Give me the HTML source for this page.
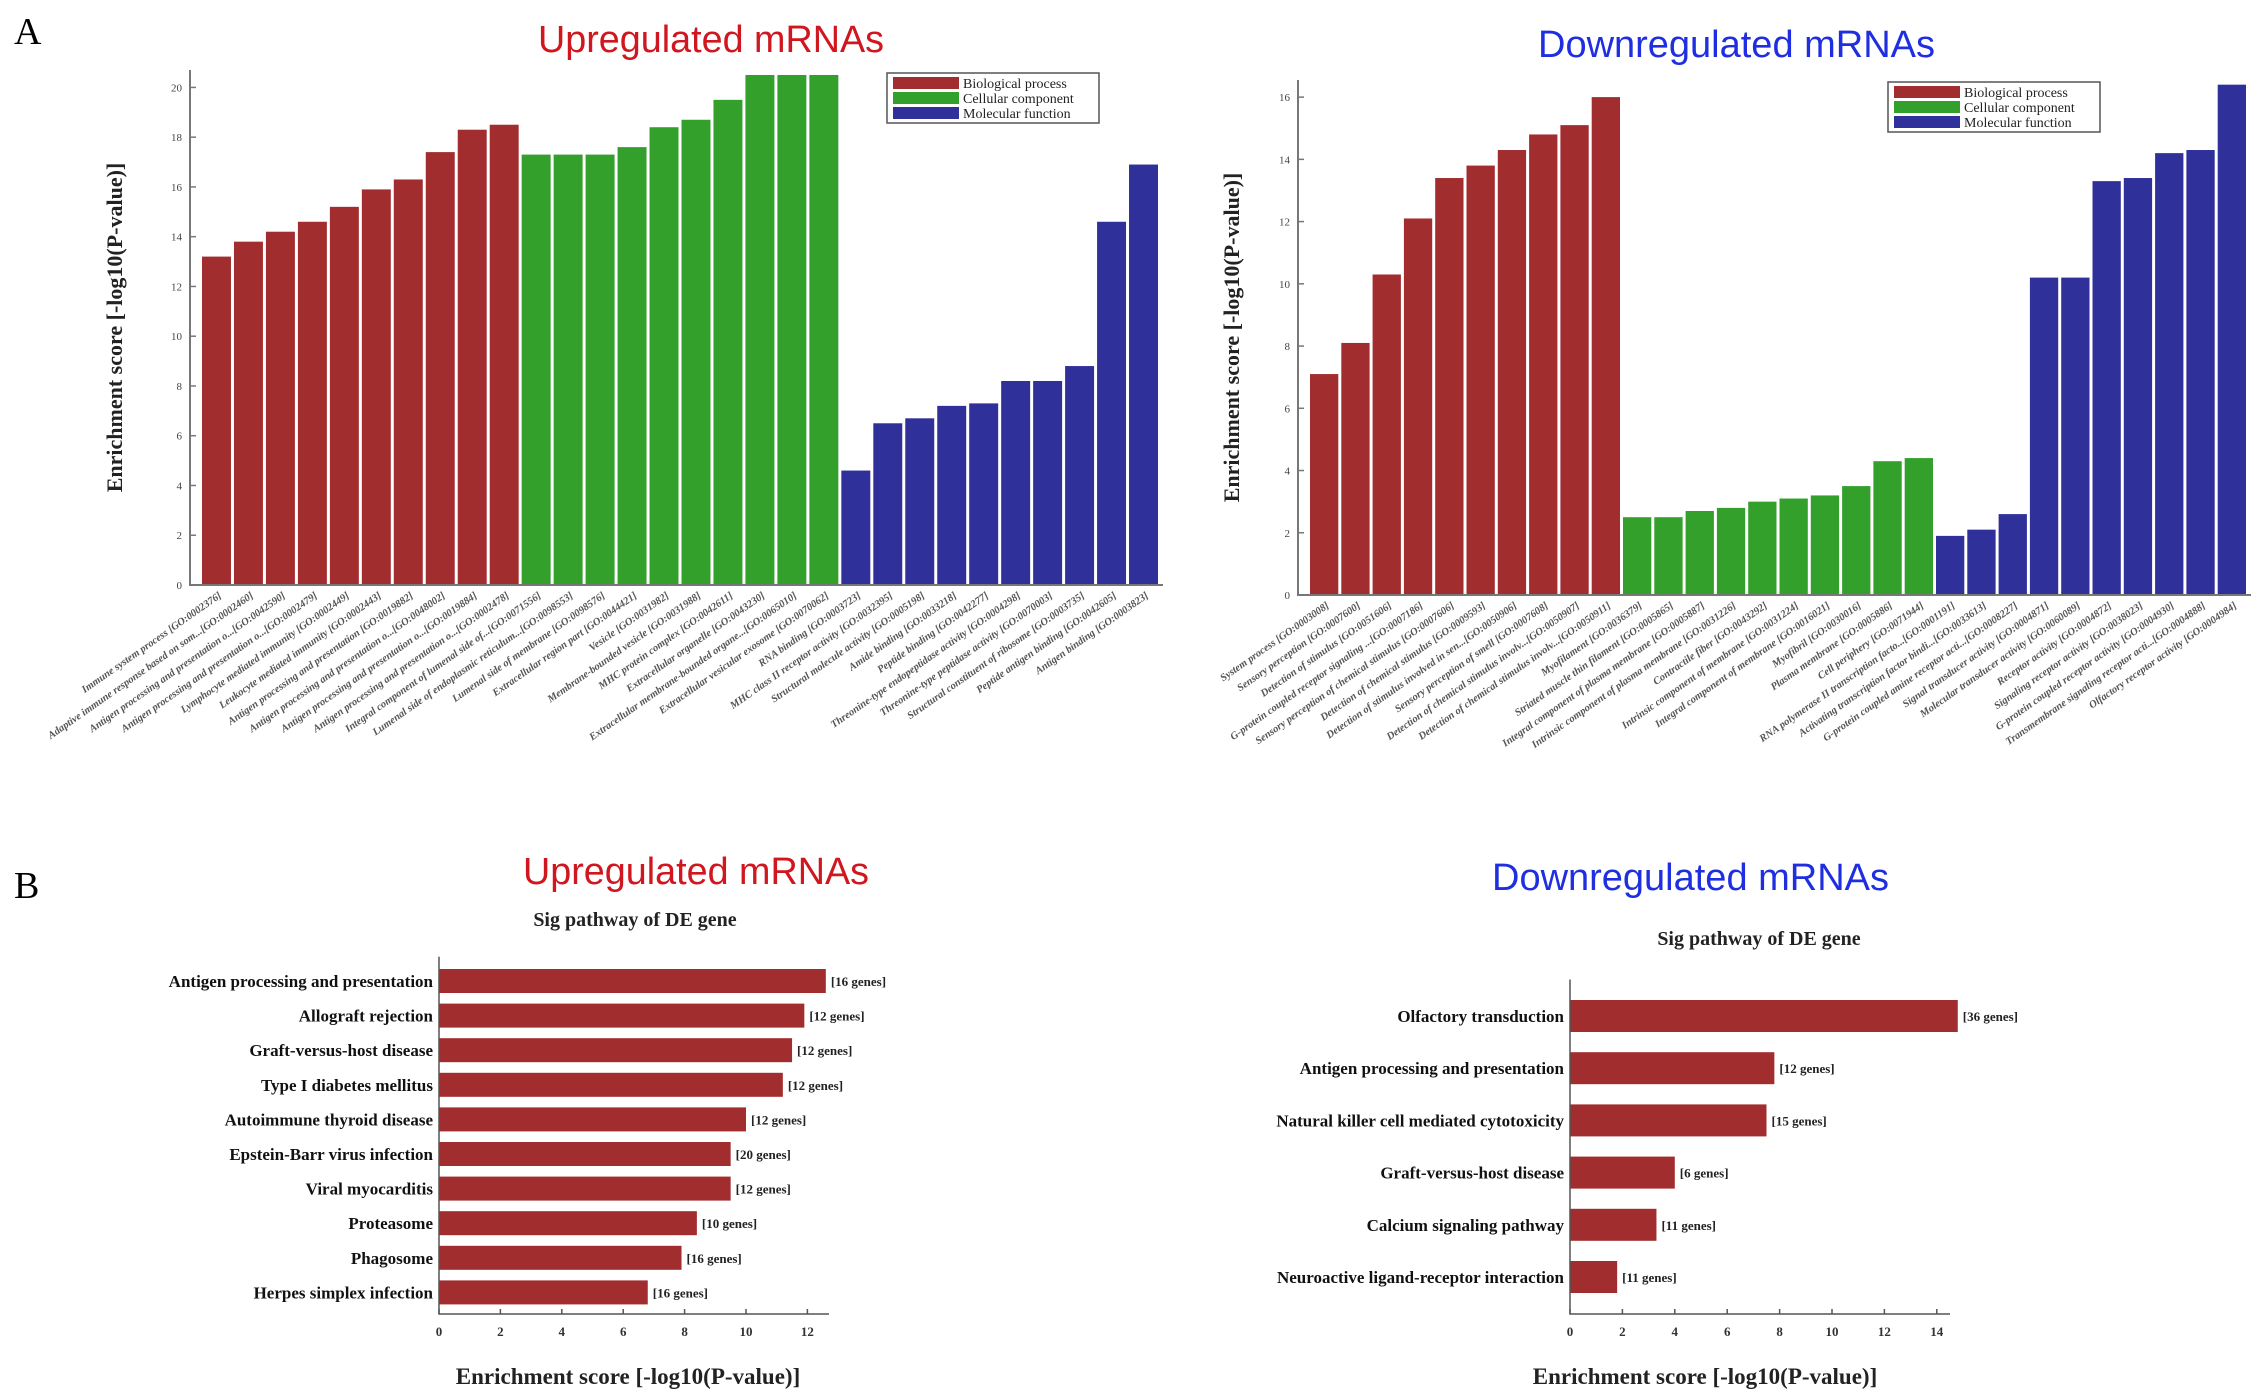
<!DOCTYPE html>
<html><head><meta charset="utf-8"><style>
body{margin:0;background:#fff}
svg{display:block}
text{font-family:"Liberation Serif",serif}
</style></head><body>
<svg id="fig" width="2268" height="1395" viewBox="0 0 2268 1395" xmlns="http://www.w3.org/2000/svg">
<text x="14" y="44" font-size="38">A</text>
<text x="14" y="898" font-size="38">B</text>
<text x="538" y="52" font-size="38" fill="#d0161e" textLength="346" lengthAdjust="spacingAndGlyphs" style="font-family:'Liberation Sans',sans-serif">Upregulated mRNAs</text>
<text x="1538" y="57" font-size="38" fill="#1f2ee0" textLength="397" lengthAdjust="spacingAndGlyphs" style="font-family:'Liberation Sans',sans-serif">Downregulated mRNAs</text>
<text x="523" y="884" font-size="38" fill="#d0161e" textLength="346" lengthAdjust="spacingAndGlyphs" style="font-family:'Liberation Sans',sans-serif">Upregulated mRNAs</text>
<text x="1492" y="890" font-size="38" fill="#1f2ee0" textLength="397" lengthAdjust="spacingAndGlyphs" style="font-family:'Liberation Sans',sans-serif">Downregulated mRNAs</text>
</svg>
<script>
const upGoCats=["Immune system process [GO:0002376]","Adaptive immune response based on som...[GO:0002460]","Antigen processing and presentation o...[GO:0042590]","Antigen processing and presentation o...[GO:0002479]","Lymphocyte mediated immunity [GO:0002449]","Leukocyte mediated immunity [GO:0002443]","Antigen processing and presentation [GO:0019882]","Antigen processing and presentation o...[GO:0048002]","Antigen processing and presentation o...[GO:0019884]","Antigen processing and presentation o...[GO:0002478]","Integral component of lumenal side of...[GO:0071556]","Lumenal side of endoplasmic reticulum...[GO:0098553]","Lumenal side of membrane [GO:0098576]","Extracellular region part [GO:0044421]","Vesicle [GO:0031982]","Membrane-bounded vesicle [GO:0031988]","MHC protein complex [GO:0042611]","Extracellular organelle [GO:0043230]","Extracellular membrane-bounded organe...[GO:0065010]","Extracellular vesicular exosome [GO:0070062]","RNA binding [GO:0003723]","MHC class II receptor activity [GO:0032395]","Structural molecule activity [GO:0005198]","Amide binding [GO:0033218]","Peptide binding [GO:0042277]","Threonine-type endopeptidase activity [GO:0004298]","Threonine-type peptidase activity [GO:0070003]","Structural constituent of ribosome [GO:0003735]","Peptide antigen binding [GO:0042605]","Antigen binding [GO:0003823]"];
const upGoBP=[13.2,13.8,14.2,14.6,15.2,15.9,16.3,17.4,18.3,18.5];
const upGoCC=[17.3,17.3,17.3,17.6,18.4,18.7,19.5,20.5,20.5,20.5];
const upGoMF=[4.6,6.5,6.7,7.2,7.3,8.2,8.2,8.8,14.6,16.9];
const upGoTicks=[0,2,4,6,8,10,12,14,16,18,20];
const downGoCats=["System process [GO:0003008]","Sensory perception [GO:0007600]","Detection of stimulus [GO:0051606]","G-protein coupled receptor signaling ...[GO:0007186]","Sensory perception of chemical stimulus [GO:0007606]","Detection of chemical stimulus [GO:0009593]","Detection of stimulus involved in sen...[GO:0050906]","Sensory perception of smell [GO:0007608]","Detection of chemical stimulus involv...[GO:0050907]","Detection of chemical stimulus involv...[GO:0050911]","Myofilament [GO:0036379]","Striated muscle thin filament [GO:0005865]","Integral component of plasma membrane [GO:0005887]","Intrinsic component of plasma membrane [GO:0031226]","Contractile fiber [GO:0043292]","Intrinsic component of membrane [GO:0031224]","Integral component of membrane [GO:0016021]","Myofibril [GO:0030016]","Plasma membrane [GO:0005886]","Cell periphery [GO:0071944]","RNA polymerase II transcription facto...[GO:0001191]","Activating transcription factor bindi...[GO:0033613]","G-protein coupled amine receptor acti...[GO:0008227]","Signal transducer activity [GO:0004871]","Molecular transducer activity [GO:0060089]","Receptor activity [GO:0004872]","Signaling receptor activity [GO:0038023]","G-protein coupled receptor activity [GO:0004930]","Transmembrane signaling receptor acti...[GO:0004888]","Olfactory receptor activity [GO:0004984]"];
const downGoBP=[7.1,8.1,10.3,12.1,13.4,13.8,14.3,14.8,15.1,16.0];
const downGoCC=[2.5,2.5,2.7,2.8,3.0,3.1,3.2,3.5,4.3,4.4];
const downGoMF=[1.9,2.1,2.6,10.2,10.2,13.3,13.4,14.2,14.3,16.4];
const downGoTicks=[0,2,4,6,8,10,12,14,16];
const upKeggCats=["Antigen processing and presentation","Allograft rejection","Graft-versus-host disease","Type I diabetes mellitus","Autoimmune thyroid disease","Epstein-Barr virus infection","Viral myocarditis","Proteasome","Phagosome","Herpes simplex infection"];
const upKeggVals=[12.6,11.9,11.5,11.2,10.0,9.5,9.5,8.4,7.9,6.8];
const upKeggGenes=[16,12,12,12,12,20,12,10,16,16];
const upKeggTicks=[0,2,4,6,8,10,12];
const downKeggCats=["Olfactory transduction","Antigen processing and presentation","Natural killer cell mediated cytotoxicity","Graft-versus-host disease","Calcium signaling pathway","Neuroactive ligand-receptor interaction"];
const downKeggVals=[14.8,7.8,7.5,4.0,3.3,1.8];
const downKeggGenes=[36,12,15,6,11,11];
const downKeggTicks=[0,2,4,6,8,10,12,14];

const svg=document.getElementById('fig');
const NS='http://www.w3.org/2000/svg';
function mk(tag,attrs,parent){const e=document.createElementNS(NS,tag);for(const k in attrs)e.setAttribute(k,attrs[k]);(parent||svg).appendChild(e);return e;}
const COLS=['#a22d2f','#33a02c','#30309a'];

function vchart(id,cats,groups,ticks,x0,x1,yBase,yTop,vMax,legX,legY,yTitleX){
  const g=mk('g',{});
  
  
  const vals=[].concat(...groups);
  const y=v=>yBase-(v/vMax)*(yBase-yTop);
  const slot=(x1-x0-14)/vals.length;
  const sx=i=>x0+12+i*slot;
  let idx=0;
  groups.forEach((grp,gi)=>{grp.forEach(v=>{
    const r=mk('rect',{x:sx(idx),y:y(v),width:slot-3,height:yBase-y(v),fill:COLS[gi]},g);
    
    
    const t=mk('text',{x:0,y:0,'font-size':10.5,'font-weight':'bold','font-style':'italic',fill:'#555','text-anchor':'end',transform:`translate(${sx(idx)+slot/2+4},${yBase+12}) rotate(-35)`},g);
    t.textContent=cats[idx];
    
    
    idx++;});});
  const ax=mk('path',{d:`M${x0},${yTop}V${yBase}H${x1}`,stroke:'#777','stroke-width':2,fill:'none'},g);
  
  
  ticks.forEach(t=>{
    mk('line',{x1:x0,x2:x0+6,y1:y(t),y2:y(t),stroke:'#777','stroke-width':1.5},g);
    const tl=mk('text',{x:x0-8,y:y(t)+4,'font-size':11,fill:'#444','text-anchor':'end'},g);
    tl.textContent=t;
    
    
  });
  const yt=mk('text',{x:0,y:0,'font-size':22,'font-weight':'bold','text-anchor':'middle',fill:'#222',transform:`translate(${yTitleX},${(yTop+yBase)/2}) rotate(-90)`},g);
  yt.textContent='Enrichment score [-log10(P-value)]';
  
  
  const lg=mk('g',{},g);
  
  
  mk('rect',{x:legX,y:legY,width:212,height:50,fill:'#fff',stroke:'#555','stroke-width':1.5},lg);
  ['Biological process','Cellular component','Molecular function'].forEach((n,i)=>{
    mk('rect',{x:legX+6,y:legY+4+i*15,width:66,height:12,fill:COLS[i]},lg);
    const lt=mk('text',{x:legX+76,y:legY+15+i*15,'font-size':14,fill:'#222'},lg);
    lt.textContent=n;
    
    
  });
}
vchart('up-go',upGoCats,[upGoBP,upGoCC,upGoMF],upGoTicks,190,1163,585,70,20.7,887,73,122);
vchart('down-go',downGoCats,[downGoBP,downGoCC,downGoMF],downGoTicks,1298,2251,595,80,16.55,1888,82,1239);

function hchart(id,cats,vals,genes,ticks,x0,unit,yFirst,step,barH,axisY,axisEnd,titleX,titleY,xTitleX){
  const g=mk('g',{});
  
  
  const x=v=>x0+v*unit;
  const t0=mk('text',{x:titleX,y:titleY,'font-size':20,'font-weight':'bold','text-anchor':'middle',fill:'#222'},g);
  t0.textContent='Sig pathway of DE gene';
  
  
  cats.forEach((c,i)=>{
    const cy=yFirst+i*step;
    const r=mk('rect',{x:x0,y:cy-barH/2,width:x(vals[i])-x0,height:barH,fill:'#a22d2f'},g);
    
    
    const l=mk('text',{x:x0-6,y:cy+6,'font-size':17,'font-weight':'bold','text-anchor':'end',fill:'#111'},g);
    l.textContent=c;
    
    
    const gl=mk('text',{x:x(vals[i])+5,y:cy+5,'font-size':13,'font-weight':'bold',fill:'#222'},g);
    gl.textContent='['+genes[i]+' genes]';
    
    
  });
  const ax=mk('path',{d:`M${x0},${yFirst-step*0.7}V${axisY}H${axisEnd}`,stroke:'#555','stroke-width':1.5,fill:'none'},g);
  
  
  ticks.forEach(t=>{
    mk('line',{x1:x(t),x2:x(t),y1:axisY,y2:axisY-5,stroke:'#555','stroke-width':1.5},g);
    const tl=mk('text',{x:x(t),y:axisY+22,'font-size':13,'font-weight':'bold','text-anchor':'middle',fill:'#333'},g);
    tl.textContent=t;
    
    
  });
  const xt=mk('text',{x:xTitleX,y:axisY+70,'font-size':23,'font-weight':'bold','text-anchor':'middle',fill:'#222'},g);
  xt.textContent='Enrichment score [-log10(P-value)]';
  
  
}
hchart('up-kegg',upKeggCats,upKeggVals,upKeggGenes,upKeggTicks,439,30.7,981,34.6,24,1314,829,635,926,628);
hchart('down-kegg',downKeggCats,downKeggVals,downKeggGenes,downKeggTicks,1570,26.2,1016,52.2,32,1314,1950,1759,945,1705);
</script>
</body></html>
